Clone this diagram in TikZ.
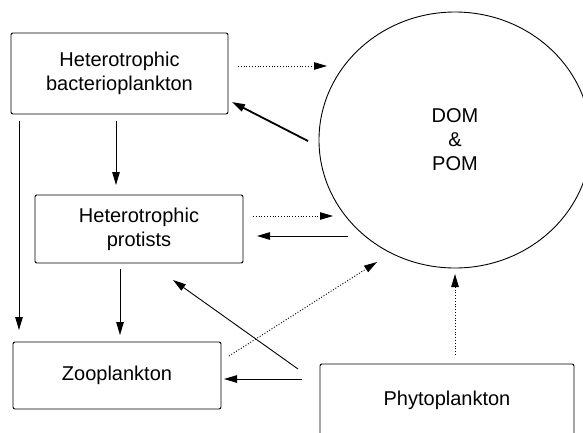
\documentclass[tikz,border=0pt]{standalone}
\usepackage{fontspec}
\setmainfont{Liberation Sans}
\usetikzlibrary{arrows.meta,shapes.geometric}
\newcommand\labelsize{\fontsize{20pt}{24pt}\selectfont}
\begin{document}
\begin{tikzpicture}[x=1pt,y=-1pt,
  box/.style={draw,rounded corners=2pt,line width=0.9pt,align=center,inner sep=0pt,font=\labelsize},
  tip/.style={-{Triangle[length=13pt,width=7.5pt]}},
  flow/.style={tip,line width=0.9pt},
  bigflow/.style={tip,line width=1.8pt},
  leak/.style={tip,line width=0.9pt,dash pattern=on 1pt off 1.8pt}]
\path[use as bounding box,clip] (0,0) rectangle (583,432);
\fill[white] (0,0) rectangle (583,432);

% compartments
\node[box,minimum width=217pt,minimum height=81pt] (bact) at (119.5,73.5) {Heterotrophic\\bacterioplankton};
\node[box,minimum width=208pt,minimum height=68pt] (prot) at (139,229) {Heterotrophic\\protists};
\node[box,minimum width=208pt,minimum height=67pt] (zoo) at (117,375.5) {Zooplankton};
\node[box,minimum width=254pt,minimum height=72pt] (phyto) at (447,400) {Phytoplankton};
\node[box,ellipse,rounded corners=0pt,minimum width=272pt,minimum height=256pt] (dom) at (455,140) {DOM\\\&\\POM};

% connector ends
\coordinate (a1) at (238,66);   \coordinate (b1) at (327,66);
\coordinate (a2) at (308,141);  \coordinate (b2) at (232,102);
\coordinate (a3) at (116,121);  \coordinate (b3) at (116,185);
\coordinate (a4) at (19,121);   \coordinate (b4) at (19,330);
\coordinate (a5) at (253,216);  \coordinate (b5) at (333,216);
\coordinate (a6) at (348,236);  \coordinate (b6) at (257,236);
\coordinate (a7) at (120,269);  \coordinate (b7) at (120,335);
\coordinate (a8) at (298,369);  \coordinate (b8) at (173,280);
\coordinate (a9) at (302,379);  \coordinate (b9) at (224,379);
\coordinate (a10) at (229,356); \coordinate (b10) at (377,262);
\coordinate (a11) at (455,355); \coordinate (b11) at (455,274);

% fluxes
\draw[leak] (a1) -- (b1);
\draw[bigflow] (a2) -- (b2);
\draw[flow] (a3) -- (b3);
\draw[flow] (a4) -- (b4);
\draw[leak] (a5) -- (b5);
\draw[flow] (a6) -- (b6);
\draw[flow] (a7) -- (b7);
\draw[flow] (a8) -- (b8);
\draw[flow] (a9) -- (b9);
\draw[leak] (a10) -- (b10);
\draw[leak] (a11) -- (b11);
\end{tikzpicture}
\end{document}
